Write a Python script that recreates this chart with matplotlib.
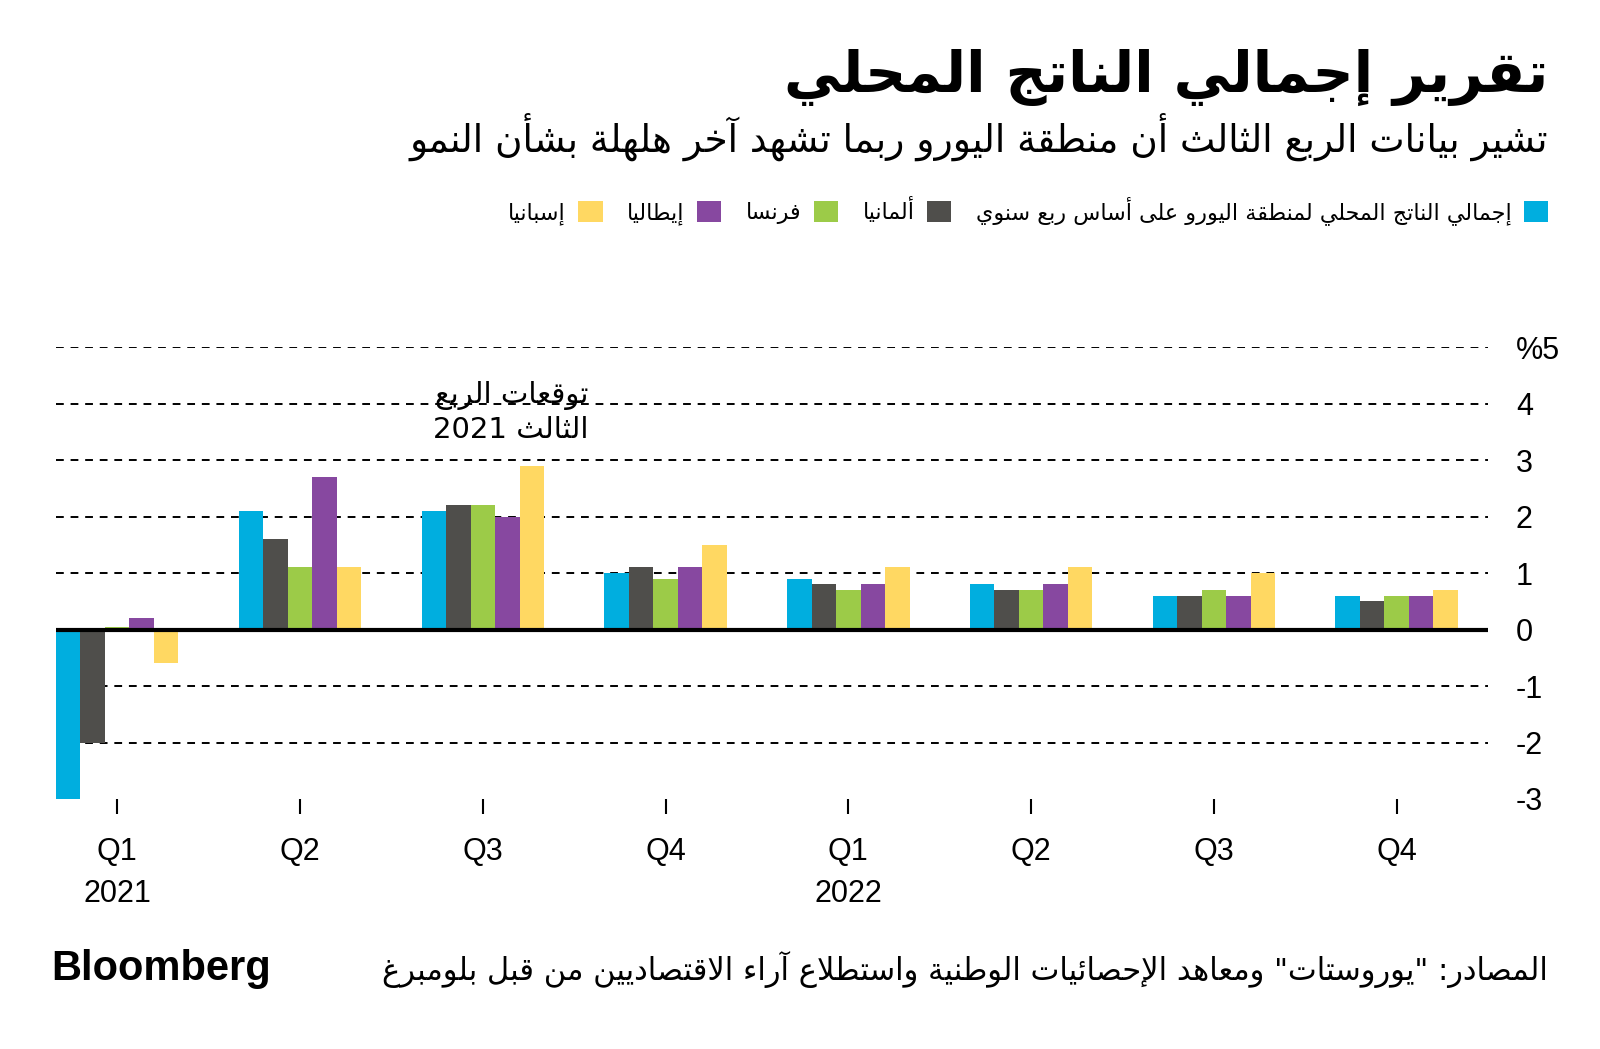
import re
import numpy as np
import matplotlib
matplotlib.use("Agg")
import matplotlib.pyplot as plt
from matplotlib.patches import Patch

# -----------------------------------------------------------
# Data
# -----------------------------------------------------------
quarters = ["Q1\n2021", "Q2", "Q3", "Q4", "Q1\n2022", "Q2", "Q3", "Q4"]
eurozone = [-3.0, 2.1, 2.1, 1.0, 0.9, 0.8, 0.6, 0.6]
germany = [-2.0, 1.6, 2.2, 1.1, 0.8, 0.7, 0.6, 0.5]
france = [0.05, 1.1, 2.2, 0.9, 0.7, 0.7, 0.7, 0.6]
italy = [0.2, 2.7, 2.0, 1.1, 0.8, 0.8, 0.6, 0.6]
spain = [-0.6, 1.1, 2.9, 1.5, 1.1, 1.1, 1.0, 0.7]

series_names = ["إجمالي الناتج المحلي لمنطقة اليورو على أساس ربع سنوي",
                "ألمانيا", "فرنسا", "إيطاليا", "إسبانيا"]
colors = ["#00AEDF", "#4F4E4B", "#9CCB48", "#8748A0", "#FFD862"]
ytick_vals = [5, 4, 3, 2, 1, 0, -1, -2, -3]
ytick_labels = ["%5", "4", "3", "2", "1", "0", "-1", "-2", "-3"]

title = "تقرير إجمالي الناتج المحلي"
subtitle = "تشير بيانات الربع الثالث أن منطقة اليورو ربما تشهد آخر هلهلة بشأن النمو"
note = "توقعات الربع\nالثالث 2021"
source = 'المصادر: "يوروستات" ومعاهد الإحصائيات الوطنية واستطلاع آراء الاقتصاديين من قبل بلومبرغ'

# -----------------------------------------------------------
# Small Arabic shaper (matplotlib has no complex text layout)
# -----------------------------------------------------------
FOUR = {0x0626: 0xFE89, 0x0628: 0xFE8F, 0x062A: 0xFE95, 0x062B: 0xFE99, 0x062C: 0xFE9D,
        0x062D: 0xFEA1, 0x062E: 0xFEA5, 0x0633: 0xFEB1, 0x0634: 0xFEB5, 0x0635: 0xFEB9,
        0x0636: 0xFEBD, 0x0637: 0xFEC1, 0x0638: 0xFEC5, 0x0639: 0xFEC9, 0x063A: 0xFECD,
        0x0641: 0xFED1, 0x0642: 0xFED5, 0x0643: 0xFED9, 0x0644: 0xFEDD, 0x0645: 0xFEE1,
        0x0646: 0xFEE5, 0x0647: 0xFEE9, 0x064A: 0xFEF1}
TWO = {0x0622: 0xFE81, 0x0623: 0xFE83, 0x0624: 0xFE85, 0x0625: 0xFE87, 0x0627: 0xFE8D,
       0x0629: 0xFE93, 0x062F: 0xFEA9, 0x0630: 0xFEAB, 0x0631: 0xFEAD, 0x0632: 0xFEAF,
       0x0648: 0xFEED, 0x0649: 0xFEEF}
ONE = {0x0621: 0xFE80}
LAM_ALEF = {"آ": 0xFEF5, "أ": 0xFEF7, "إ": 0xFEF9, "ا": 0xFEFB}


def shape(s):
    chars = []
    i = 0
    while i < len(s):
        if s[i] == "ل" and i + 1 < len(s) and s[i + 1] in LAM_ALEF:
            chars.append(("LA", s[i + 1]))
            i += 2
        else:
            chars.append(s[i])
            i += 1

    def joins_next(t):
        return not isinstance(t, tuple) and ord(t) in FOUR

    def joins_prev(t):
        return isinstance(t, tuple) or ord(t) in FOUR or ord(t) in TWO

    out = []
    for k, t in enumerate(chars):
        prev = chars[k - 1] if k > 0 else None
        nxt = chars[k + 1] if k + 1 < len(chars) else None
        p = prev is not None and joins_next(prev) and joins_prev(t)
        n = nxt is not None and joins_next(t) and joins_prev(nxt)
        if isinstance(t, tuple):
            out.append(chr(LAM_ALEF[t[1]] + (1 if p else 0)))
        elif ord(t) in FOUR:
            out.append(chr(FOUR[ord(t)] + (3 if p and n else 2 if n else 1 if p else 0)))
        elif ord(t) in TWO:
            out.append(chr(TWO[ord(t)] + (1 if p else 0)))
        elif ord(t) in ONE:
            out.append(chr(ONE[ord(t)]))
        else:
            out.append(t)
    return "".join(out)


def ar(s):
    lines = []
    for line in s.split("\n"):
        runs = re.findall(r"[0-9A-Za-z%]+|[^0-9A-Za-z%]+", shape(line))
        lines.append("".join(r if re.match(r"[0-9A-Za-z%]", r) else r[::-1]
                             for r in reversed(runs)))
    return "\n".join(lines)


AR_FONT = "DejaVu Sans"
NUM_FONT = "Liberation Sans"

# -----------------------------------------------------------
# Figure
# -----------------------------------------------------------
fig = plt.figure(figsize=(16, 10.49), dpi=100)
ax = fig.add_axes([56 / 1600, 1 - 799 / 1049, 1432 / 1600, 452 / 1049])

x = np.arange(len(quarters))
w = 0.134
all_series = [eurozone, germany, france, italy, spain]
for i, vals in enumerate(all_series):
    ax.bar(x + (i - 2) * w, vals, width=w, color=colors[i], zorder=3)

# grid lines
for v in ytick_vals:
    if v == 0:
        ax.axhline(0, color="black", lw=3, zorder=4)
    elif v != -3:
        ax.axhline(v, color="black", lw=1.4, ls=(0, (4, 3.5)), zorder=1)

ax.set_xlim(-0.335, 7.5)
ax.set_ylim(-3, 5)
for sp in ax.spines.values():
    sp.set_visible(False)

ax.yaxis.tick_right()
ax.set_yticks(ytick_vals)
ax.set_yticklabels(ytick_labels, fontsize=22, family=NUM_FONT)
ax.tick_params(axis="y", length=0, pad=20)
for lbl in ax.get_yticklabels():
    lbl.set_horizontalalignment("left")

ax.set_xticks(x)
ax.set_xticklabels(quarters, fontsize=22, family=NUM_FONT, linespacing=1.55)
ax.tick_params(axis="x", length=11, width=1.5, pad=16)

# annotation for Q3 2021 forecasts
ax.text(2.58, 3.84, ar(note), fontsize=21, family=AR_FONT,
        ha="right", va="center", multialignment="right", linespacing=1.25, zorder=5)

# titles
fig.text(0.9675, 0.926, ar(title), fontsize=41, fontweight="bold", family=AR_FONT,
         ha="right", va="center")
fig.text(0.9675, 0.870, ar(subtitle), fontsize=27, family=AR_FONT,
         ha="right", va="center")

# legend (right-to-left)
handles = [Patch(facecolor=colors[i], label=ar(series_names[i])) for i in range(5)][::-1]
fig.legend(handles=handles, loc="center right", bbox_to_anchor=(0.980, 0.799),
           ncol=5, frameon=False, markerfirst=False, handlelength=1.1, handleheight=1.1,
           handletextpad=0.55, columnspacing=1.1, prop={"family": AR_FONT, "size": 16})

# footer
fig.text(51 / 1600, 0.076, "Bloomberg", fontsize=30, fontweight="bold", family=NUM_FONT,
         ha="left", va="center")
fig.text(0.9675, 0.076, ar(source), fontsize=22, family=AR_FONT, ha="right", va="center")

fig.savefig("out.png", dpi=100, facecolor="white")
